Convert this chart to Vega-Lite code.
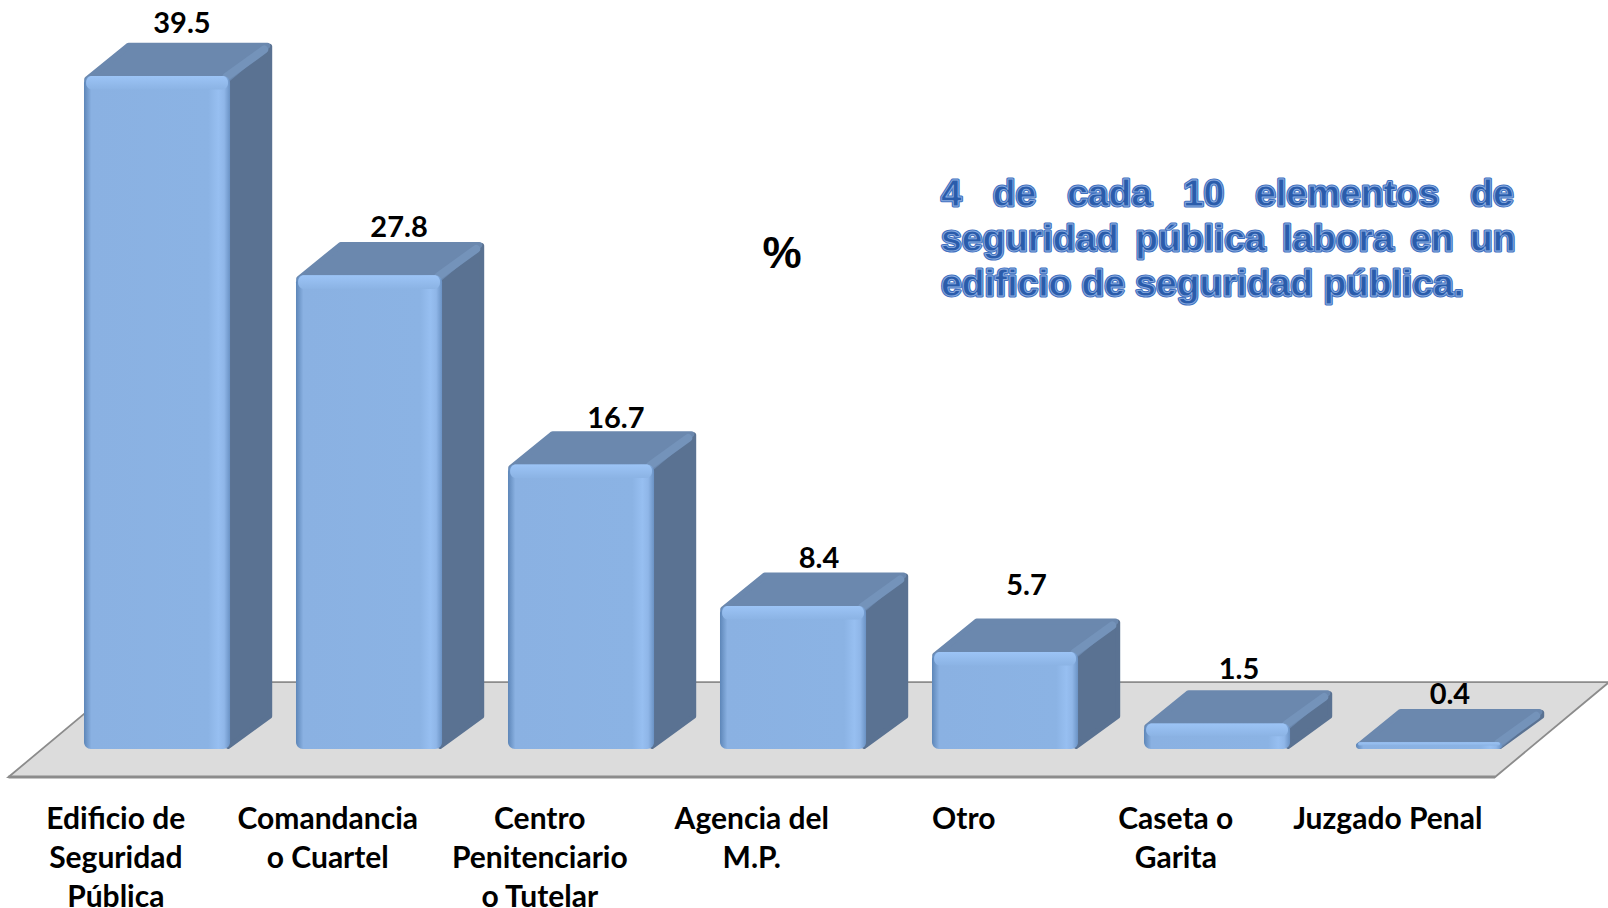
{"$schema":"https://vega.github.io/schema/vega-lite/v6.json","autosize":{"type":"none"},"width":1608,"height":908,"padding":0,"background":"white","view":{"stroke":null},
"datasets":{"barras":[
{"categoria":"Edificio de\nSeguridad\nPública","orden":0,"valor":39.5},
{"categoria":"Comandancia\no Cuartel","orden":1,"valor":27.8},
{"categoria":"Centro\nPenitenciario\no Tutelar","orden":2,"valor":16.7},
{"categoria":"Agencia del\nM.P.","orden":3,"valor":8.4},
{"categoria":"Otro","orden":4,"valor":5.7},
{"categoria":"Caseta o\nGarita","orden":5,"valor":1.5},
{"categoria":"Juzgado Penal","orden":6,"valor":0.4}],
"nota":[{"linea":0,"texto":"4\u00a0\u00a0\u00a0de\u00a0\u00a0\u00a0cada\u00a0\u00a0\u00a010\u00a0\u00a0\u00a0elementos\u00a0\u00a0\u00a0de"},{"linea":1,"texto":"seguridad\u00a0\u2006pública\u00a0\u2006labora\u00a0\u2006en\u00a0\u2006un"},{"linea":2,"texto":"edificio de seguridad pública."}],
"suelo":[{"t":0},{"t":1},{"t":2},{"t":3}]},
"layer":[
{"data":{"name":"suelo"},"transform":[{"calculate":"[-0.356,0.18,6.656,7.194][datum.t]","as":"xv"},{"calculate":"-1.643+[0,5.573,5.573,5.573][datum.t]","as":"ya"},{"calculate":"-1.643+[0,0,0,5.573][datum.t]","as":"yb"}],
"mark":{"type":"area","color":"#dcdcdc","stroke":"#8c8c8c","strokeWidth":1.8,"strokeJoin":"miter"},
"encoding":{"x":{"field":"xv","type":"quantitative","axis":null,"scale":{"domain":[-0.3962,7.1887],"nice":false,"zero":false}},"y":{"field":"ya","type":"quantitative","axis":null,"scale":{"domain":[-9.33,43.96],"nice":false,"zero":false}},"y2":{"field":"yb"}}},
{"data":{"name":"suelo"},"transform":[{"filter":"datum.t==0"},{"calculate":"-0.356","as":"xa"},{"calculate":"6.656","as":"xb"},{"calculate":"-1.643","as":"yy"}],
"mark":{"type":"rule","color":"#8c8c8c","strokeWidth":3},
"encoding":{"x":{"field":"xa","type":"quantitative","axis":null,"scale":{"domain":[-0.3962,7.1887],"nice":false,"zero":false}},"x2":{"field":"xb"},"y":{"field":"yy","type":"quantitative","axis":null,"scale":{"domain":[-9.33,43.96],"nice":false,"zero":false}}}},
{"data":{"name":"barras"},"transform":[{"calculate":"[0,1]","as":"t"},{"flatten":["t"]},{"calculate":"datum.orden+0.68+datum.t*0.196","as":"xs"},{"calculate":"datum.valor+datum.t*1.62+0.12","as":"ya"},{"calculate":"datum.t*1.78+0.15","as":"yb"}],
"mark":{"type":"area","color":"#5a7292","stroke":"#5a7292","strokeWidth":5,"strokeJoin":"round"},
"encoding":{"x":{"field":"xs","type":"quantitative","axis":null,"scale":{"domain":[-0.3962,7.1887],"nice":false,"zero":false}},"y":{"field":"ya","type":"quantitative","axis":null,"scale":{"domain":[-9.33,43.96],"nice":false,"zero":false}},"y2":{"field":"yb"},"detail":{"field":"orden"}}},
{"data":{"name":"barras"},"transform":[{"calculate":"[0,1,2,3]","as":"t"},{"flatten":["t"]},{"calculate":"datum.orden+0.015+[0,0.196,0.66,0.85][datum.t]","as":"xv"},{"calculate":"datum.valor-0.2+[0,1.98,1.98,1.98][datum.t]","as":"ya"},{"calculate":"datum.valor-0.2+[0,0,0,1.98][datum.t]","as":"yb"}],
"mark":{"type":"area","color":"#6b88ae","stroke":"#6b88ae","strokeWidth":6,"strokeJoin":"round"},
"encoding":{"x":{"field":"xv","type":"quantitative","axis":null,"scale":{"domain":[-0.3962,7.1887],"nice":false,"zero":false}},"y":{"field":"ya","type":"quantitative","axis":null,"scale":{"domain":[-9.33,43.96],"nice":false,"zero":false}},"y2":{"field":"yb"},"detail":{"field":"orden"}}},
{"data":{"name":"barras"},"transform":[{"calculate":"[0,1]","as":"t"},{"flatten":["t"]},{"calculate":"datum.orden+0.672+datum.t*0.178","as":"xs"},{"calculate":"datum.valor-0.05+datum.t*1.6","as":"ya"}],
"mark":{"type":"line","color":"#7493ba","strokeWidth":8,"strokeCap":"round"},
"encoding":{"x":{"field":"xs","type":"quantitative","axis":null,"scale":{"domain":[-0.3962,7.1887],"nice":false,"zero":false}},"y":{"field":"ya","type":"quantitative","axis":null,"scale":{"domain":[-9.33,43.96],"nice":false,"zero":false}},"detail":{"field":"orden"}}},
{"data":{"name":"barras"},"transform":[{"calculate":"datum.orden","as":"xa"},{"calculate":"datum.orden+0.689","as":"xb"},{"calculate":"0","as":"cero"}],
"mark":{"type":"rect","cornerRadius":7,"color":{"gradient":"linear","x1":0,"x2":1,"y1":0,"y2":0,"stops":[{"offset":0,"color":"#5d86b8"},{"offset":0.05,"color":"#8ab1e2"},{"offset":0.85,"color":"#8bb3e4"},{"offset":0.92,"color":"#97bff1"},{"offset":0.96,"color":"#8fb6e8"},{"offset":1,"color":"#6a92c4"}]}},
"encoding":{"x":{"field":"xa","type":"quantitative","axis":null,"scale":{"domain":[-0.3962,7.1887],"nice":false,"zero":false}},"x2":{"field":"xb"},"y":{"field":"valor","type":"quantitative","axis":null,"scale":{"domain":[-9.33,43.96],"nice":false,"zero":false}},"y2":{"field":"cero"}}},
{"data":{"name":"barras"},"transform":[{"calculate":"datum.orden+0.01","as":"xa"},{"calculate":"datum.orden+0.679","as":"xb"},{"calculate":"datum.valor-min(0.8,datum.valor*0.5)","as":"ya"}],
"mark":{"type":"rect","cornerRadius":6,"color":{"gradient":"linear","x1":0,"x2":0,"y1":0,"y2":1,"stops":[{"offset":0,"color":"#9cc4f6"},{"offset":1,"color":"#8bb3e4"}]}},
"encoding":{"x":{"field":"xa","type":"quantitative","axis":null,"scale":{"domain":[-0.3962,7.1887],"nice":false,"zero":false}},"x2":{"field":"xb"},"y":{"field":"valor","type":"quantitative","axis":null,"scale":{"domain":[-9.33,43.96],"nice":false,"zero":false}},"y2":{"field":"ya"}}},
{"data":{"name":"barras"},"transform":[{"calculate":"datum.orden+[0.462,0.486,0.509,0.467,0.446,0.448,0.443][datum.orden]","as":"xt"},{"calculate":"datum.valor+1.94+[1.14,0.84,0.70,0.82,1.90,1.17,0.82][datum.orden]","as":"yt"},{"calculate":"format(datum.valor,'.1f')","as":"etiqueta"}],
"mark":{"type":"text","font":"Lato","fontWeight":"bold","fontSize":29,"color":"#000000","baseline":"middle","align":"center"},
"encoding":{"x":{"field":"xt","type":"quantitative","axis":null,"scale":{"domain":[-0.3962,7.1887],"nice":false,"zero":false}},"y":{"field":"yt","type":"quantitative","axis":null,"scale":{"domain":[-9.33,43.96],"nice":false,"zero":false}},"text":{"field":"etiqueta"}}},
{"data":{"name":"barras"},"transform":[{"calculate":"datum.orden+0.15","as":"xt"},{"calculate":"-4.18","as":"yt"}],
"mark":{"type":"text","font":"Lato","fontWeight":"bold","fontSize":30,"lineHeight":39,"lineBreak":"\n","color":"#000000","baseline":"middle","align":"center"},
"encoding":{"x":{"field":"xt","type":"quantitative","axis":null,"scale":{"domain":[-0.3962,7.1887],"nice":false,"zero":false}},"y":{"field":"yt","type":"quantitative","axis":null,"scale":{"domain":[-9.33,43.96],"nice":false,"zero":false}},"text":{"field":"categoria"}}},
{"data":{"values":[{"simbolo":"%"}]},"transform":[{"calculate":"3.293","as":"xt"},{"calculate":"28.98","as":"yt"}],
"mark":{"type":"text","font":"Liberation Sans","fontWeight":"bold","fontSize":44,"color":"#000000","baseline":"middle","align":"center"},
"encoding":{"x":{"field":"xt","type":"quantitative","axis":null,"scale":{"domain":[-0.3962,7.1887],"nice":false,"zero":false}},"y":{"field":"yt","type":"quantitative","axis":null,"scale":{"domain":[-9.33,43.96],"nice":false,"zero":false}},"text":{"field":"simbolo"}}},
{"data":{"name":"nota"},"transform":[{"calculate":"4.043","as":"xt"},{"calculate":"32.51-datum.linea*2.63","as":"yt"}],
"mark":{"type":"text","font":"Liberation Sans","fontWeight":"bold","fontSize":37.2,"color":"#3f70c0","stroke":"#3f70c0","strokeWidth":3,"strokeJoin":"round","baseline":"middle","align":"left"},
"encoding":{"x":{"field":"xt","type":"quantitative","axis":null,"scale":{"domain":[-0.3962,7.1887],"nice":false,"zero":false}},"y":{"field":"yt","type":"quantitative","axis":null,"scale":{"domain":[-9.33,43.96],"nice":false,"zero":false}},"text":{"field":"texto"}}},
{"data":{"name":"nota"},"transform":[{"calculate":"4.043","as":"xt"},{"calculate":"32.51-datum.linea*2.63","as":"yt"}],
"mark":{"type":"text","font":"Liberation Sans","fontWeight":"bold","fontSize":37.2,"color":"#2a5cab","stroke":"#8aabdf","strokeWidth":0.9,"strokeJoin":"round","baseline":"middle","align":"left"},
"encoding":{"x":{"field":"xt","type":"quantitative","axis":null,"scale":{"domain":[-0.3962,7.1887],"nice":false,"zero":false}},"y":{"field":"yt","type":"quantitative","axis":null,"scale":{"domain":[-9.33,43.96],"nice":false,"zero":false}},"text":{"field":"texto"}}}
]}
